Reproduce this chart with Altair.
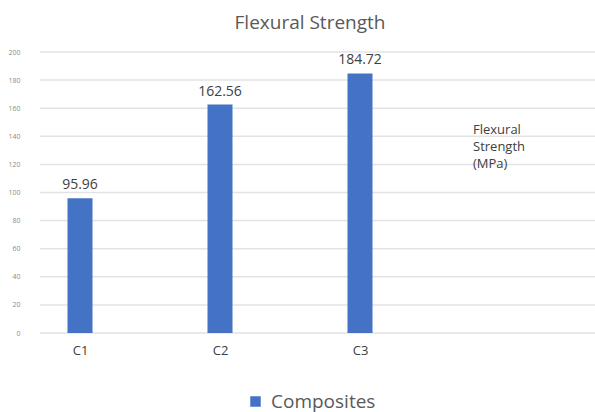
import altair as alt
import pandas as pd

# Flexural strength of the three composites (MPa)
categories = ["C1", "C2", "C3"]
strength = [95.96, 162.56, 184.72]
series = ["Composites", "Composites", "Composites"]
y_ticks = [0, 20, 40, 60, 80, 100, 120, 140, 160, 180, 200]

df = pd.DataFrame({"sample": categories, "strength": strength, "series": series})
grid_df = pd.DataFrame({"tick": y_ticks})

FONT = "Open Sans"
BLUE = "#4472C4"
TEXT = "#404040"

y_scale = alt.Scale(domain=[0, 200], nice=False)
y_axis = alt.Axis(
    title=None, values=y_ticks, ticks=False, domain=False, grid=False,
    labelFont=FONT, labelFontSize=7, labelColor="#8c8c8c",
    labelPadding=20, labelOverlap=False,
)
x_scale = alt.Scale(type="point", range=[40, 320], padding=0)
x_axis = alt.Axis(
    title=None, labelAngle=0, ticks=False, domain=False, grid=False,
    labelFont=FONT, labelFontSize=13, labelColor=TEXT, labelPadding=11,
)

# horizontal gridlines across the whole plot width
grid = alt.Chart(grid_df).mark_rule(color="#e3e3e3", strokeWidth=1.5).encode(
    x=alt.value(0),
    x2=alt.value(555),
    y=alt.Y("tick:Q", scale=y_scale, axis=y_axis),
)

bars = alt.Chart(df).mark_bar(size=25).encode(
    x=alt.X("sample:N", sort=categories, scale=x_scale, axis=x_axis),
    y=alt.Y("strength:Q", scale=y_scale, axis=y_axis),
    color=alt.Color(
        "series:N",
        scale=alt.Scale(range=[BLUE]),
        legend=alt.Legend(
            title=None, orient="none", legendX=206, legendY=340,
            symbolType="square", symbolSize=110, symbolStrokeWidth=0,
            labelFont=FONT, labelFontSize=19, labelColor="#595959",
            labelOffset=6,
        ),
    ),
)

values = alt.Chart(df).mark_text(
    baseline="bottom", dy=-6, font=FONT, fontSize=14, color=TEXT
).encode(
    x=alt.X("sample:N", sort=categories, scale=x_scale, axis=x_axis),
    y=alt.Y("strength:Q", scale=y_scale, axis=y_axis),
    text=alt.Text("strength:Q", format=".2f"),
)

side_note = alt.Chart(pd.DataFrame({"t": [["Flexural", "Strength", "(MPa)"]]})).mark_text(
    align="left", baseline="middle", font=FONT, fontSize=13, color=TEXT, lineHeight=17
).encode(
    x=alt.value(433), y=alt.value(78), text="t:N"
)

title = alt.Chart(pd.DataFrame({"t": ["Flexural Strength"]})).mark_text(
    align="center", baseline="middle", font=FONT, fontSize=19, color="#595959"
).encode(
    x=alt.value(270), y=alt.value(-29), text="t:N"
)

chart = (
    alt.layer(grid, bars, values, side_note, title)
    .properties(
        width=555,
        height=281,
        autosize=alt.AutoSizeParams(type="none"),
        padding={"left": 40, "top": 52, "right": 0, "bottom": 79},
    )
    .configure_view(stroke=None)
)

chart.save("out.html", embed_options={"renderer": "svg", "actions": False})
